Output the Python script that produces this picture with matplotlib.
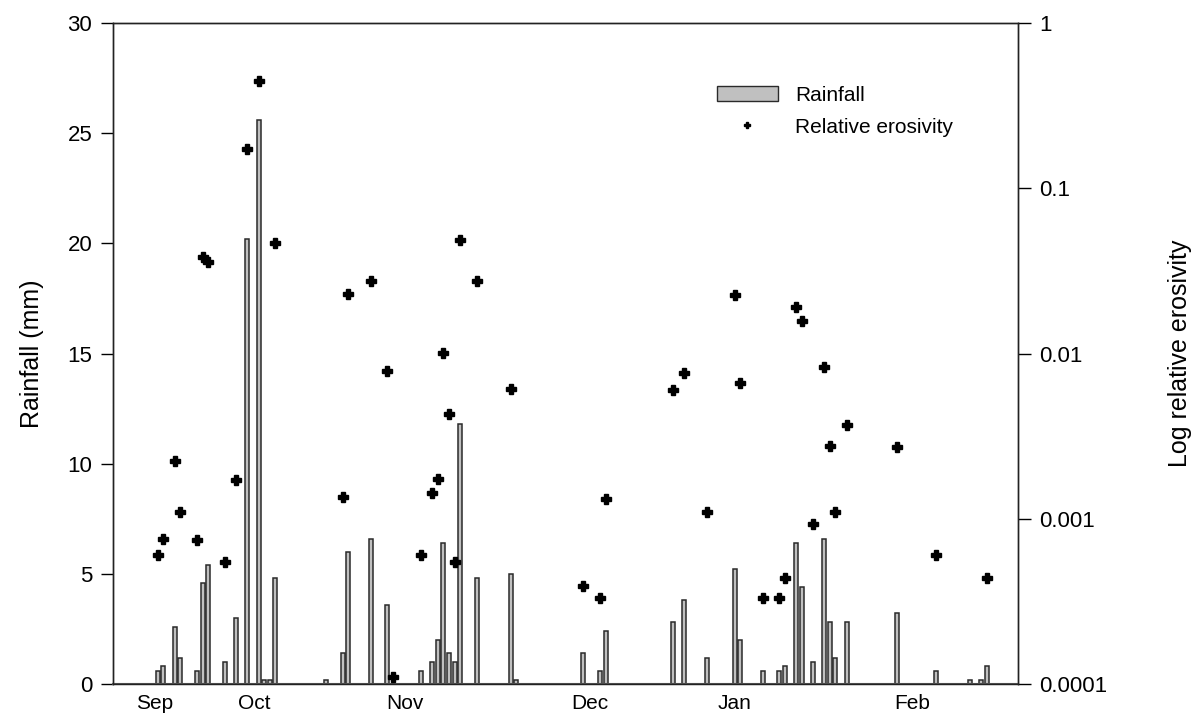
import numpy as np
import matplotlib.pyplot as plt
from matplotlib.ticker import NullLocator, FixedLocator, FuncFormatter
from matplotlib.patches import Patch
from matplotlib.lines import Line2D

plt.rcParams['font.family'] = ['Liberation Sans', 'DejaVu Sans']

# rainfall events (day index, mm)
rain_day = [8, 9, 11, 12, 15, 16, 17, 20, 22, 24, 26, 27, 28, 29,
            38, 41, 42, 46, 49, 55, 57, 58, 59, 60, 61, 62, 65, 71, 72,
            84, 87, 88, 100, 102, 106, 111, 112, 116, 119, 120, 122, 123,
            125, 127, 128, 129, 131, 140, 147, 153, 155, 156]
rain_mm = [0.6, 0.8, 2.6, 1.2, 0.6, 4.6, 5.4, 1.0, 3.0, 20.2, 25.6, 0.2, 0.2, 4.8,
           0.2, 1.4, 6.0, 6.6, 3.6, 0.6, 1.0, 2.0, 6.4, 1.4, 1.0, 11.8, 4.8, 5.0, 0.2,
           1.4, 0.6, 2.4, 2.8, 3.8, 1.2, 5.2, 2.0, 0.6, 0.6, 0.8, 6.4, 4.4,
           1.0, 6.6, 2.8, 1.2, 2.8, 3.2, 0.6, 0.2, 0.2, 0.8]

# relative erosivity (day index, value)
ero_day = [8, 9, 11, 12, 15, 16, 17, 20, 22, 24, 26, 29,
           41, 42, 46, 49, 50, 55, 57, 58, 59, 60, 61, 62, 65, 71,
           84, 87, 88, 100, 102, 106, 111, 112, 116, 119, 120, 122, 123,
           125, 127, 128, 129, 131, 140, 147, 156]
ero_val = [6.0e-4, 7.5e-4, 2.24e-3, 1.10e-3, 7.4e-4, 0.0384, 0.0358, 5.5e-4, 1.72e-3, 0.173, 0.446, 0.0467,
           1.35e-3, 0.0229, 0.0275, 7.8e-3, 1.10e-4, 6.0e-4, 1.43e-3, 1.74e-3, 0.0101, 4.3e-3, 5.5e-4, 0.0486, 0.0275, 6.1e-3,
           3.9e-4, 3.3e-4, 1.32e-3, 6.0e-3, 7.6e-3, 1.10e-3, 0.0226, 6.6e-3, 3.3e-4, 3.3e-4, 4.4e-4, 0.0191, 0.0157,
           9.3e-4, 8.3e-3, 2.75e-3, 1.10e-3, 3.7e-3, 2.7e-3, 6.0e-4, 4.4e-4]

month_day = [7.5, 25.2, 52.1, 85.2, 111, 142.7]
month_lab = ['Sep', 'Oct', 'Nov', 'Dec', 'Jan', 'Feb']

fig = plt.figure(figsize=(12.01, 7.2), dpi=100)
ax = fig.add_axes([0.0941, 0.05, 0.7535, 0.918])
ax2 = ax.twinx()

ax.bar(rain_day, rain_mm, width=0.7, color='#c0c0c0', edgecolor='#2a2a2a', linewidth=1.1, zorder=2)
ax2.plot(ero_day, ero_val, linestyle='none', marker='P', markersize=6.5, color='black', zorder=3)

ax.set_xlim(0, 161.6)
ax.set_ylim(0, 30)
ax.set_yticks([0, 5, 10, 15, 20, 25, 30])
ax.set_ylabel('Rainfall (mm)', fontsize=18, labelpad=17)
ax.tick_params(axis='y', direction='out', length=9, width=1, labelsize=16, pad=6)
ax.set_xticks(month_day)
ax.set_xticklabels(month_lab, fontsize=15)
ax.tick_params(axis='x', length=0, pad=7)

ax2.set_yscale('log')
ax2.set_ylim(1e-4, 1)
ax2.yaxis.set_major_locator(FixedLocator([1e-4, 1e-3, 1e-2, 1e-1, 1]))
ax2.yaxis.set_minor_locator(NullLocator())
ax2.yaxis.set_major_formatter(FuncFormatter(lambda v, p: '{:g}'.format(v)))
ax2.tick_params(axis='y', direction='out', length=9, width=1, labelsize=16, pad=6)
ax2.set_ylabel('Log relative erosivity', fontsize=18, labelpad=44)

for a in (ax, ax2):
    for s in a.spines.values():
        s.set_linewidth(1.0)
        s.set_color('#222222')
ax.spines['bottom'].set_color('#555555')
ax.spines['bottom'].set_linewidth(1.5)

handles = [Patch(facecolor='#c0c0c0', edgecolor='#2a2a2a', linewidth=1.0, label='Rainfall'),
           Line2D([], [], linestyle='none', marker='P', markersize=4, color='black', label='Relative erosivity')]
ax2.legend(handles=handles, loc='upper left', bbox_to_anchor=(0.647, 0.933), frameon=False,
           fontsize=15, handlelength=2.9, handleheight=0.75, labelspacing=0.6, handletextpad=0.85)

fig.savefig('out.png', dpi=100)
